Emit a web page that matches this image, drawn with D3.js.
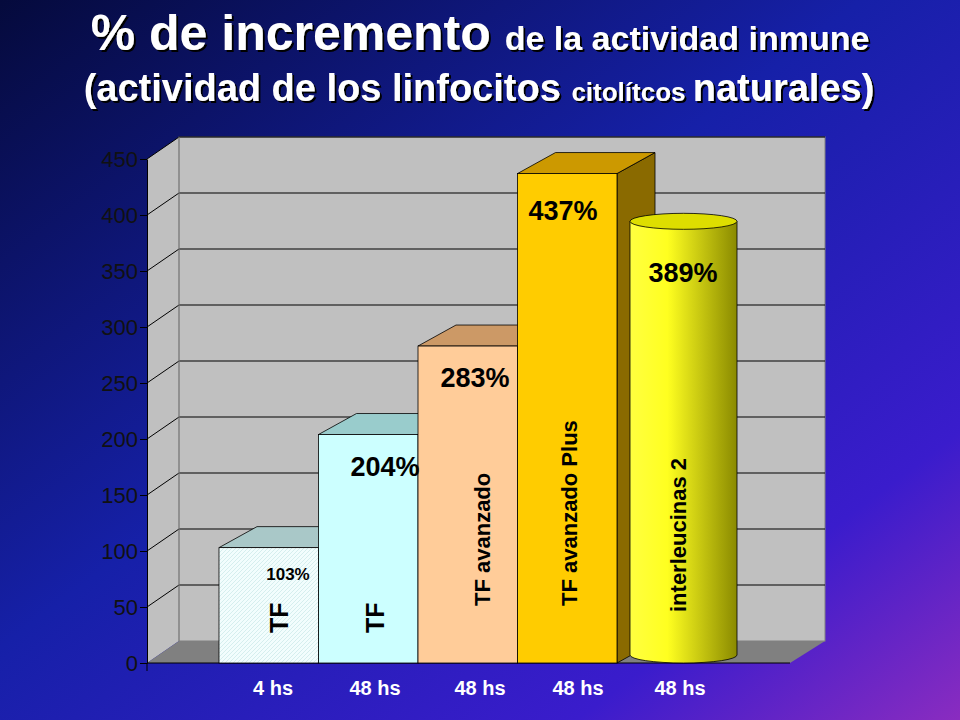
<!DOCTYPE html>
<html><head><meta charset="utf-8">
<script src="https://cdn.jsdelivr.net/npm/d3@7"></script>
<style>body{margin:0}svg{display:block}</style>
</head><body>
<svg id="chart" width="960" height="720"></svg>
<script>
// chart data
var periods = ["4 hs", "48 hs", "48 hs", "48 hs", "48 hs"]
var treatments = ["TF", "TF", "TF avanzado", "TF avanzado Plus", "interleucinas 2"]
var values = [103, 204, 283, 437, 389]
var valueLabels = ["103%", "204%", "283%", "437%", "389%"]
var yTicks = [0, 50, 100, 150, 200, 250, 300, 350, 400, 450]

var svg = d3.select("#chart")
var defs = svg.append("defs")

// background gradient
var bg = defs.append("linearGradient").attr("id", "bg")
    .attr("x1", 0).attr("y1", 0).attr("x2", 1).attr("y2", 1)
bg.append("stop").attr("offset", "0%").attr("stop-color", "#050a3c")
bg.append("stop").attr("offset", "45%").attr("stop-color", "#1620a8")
bg.append("stop").attr("offset", "80%").attr("stop-color", "#3a1ccc")
bg.append("stop").attr("offset", "100%").attr("stop-color", "#8a2cc0")
svg.append("rect").attr("width", 960).attr("height", 720).attr("fill", "url(#bg)")

var cyl = defs.append("linearGradient").attr("id", "cyl")
cyl.append("stop").attr("offset", "0%").attr("stop-color", "#ffff40")
cyl.append("stop").attr("offset", "35%").attr("stop-color", "#ffff20")
cyl.append("stop").attr("offset", "100%").attr("stop-color", "#8a8a00")

var hatch = defs.append("pattern").attr("id", "hatch").attr("width", 4).attr("height", 4)
    .attr("patternUnits", "userSpaceOnUse")
hatch.append("rect").attr("width", 4).attr("height", 4).attr("fill", "#f2fdfd")
hatch.append("path").attr("d", "M0,4L4,0").attr("stroke", "#c8e8e8").attr("stroke-width", 0.7)

var shadow = defs.append("filter").attr("id", "shadow")
shadow.append("feDropShadow").attr("dx", 2).attr("dy", 2).attr("stdDeviation", 0.5).attr("flood-color", "#000")

// title
var title = svg.append("text").attr("text-anchor", "middle").attr("filter", "url(#shadow)")
    .attr("font-family", "Liberation Sans, Arial, sans-serif").attr("font-weight", "bold")
    .attr("fill", "white")
title.append("tspan").attr("x", 480).attr("y", 50).attr("font-size", 50).text("% de incremento ")
title.append("tspan").attr("font-size", 34).text("de la actividad inmune")
var t2 = svg.append("text").attr("text-anchor", "middle").attr("filter", "url(#shadow)")
    .attr("font-family", "Liberation Sans, Arial, sans-serif").attr("font-weight", "bold")
    .attr("fill", "white")
t2.append("tspan").attr("x", 479).attr("y", 101).attr("font-size", 38).text("(actividad de los linfocitos ")
t2.append("tspan").attr("font-size", 26).text("citolítcos ")
t2.append("tspan").attr("font-size", 38).text("naturales)")

// geometry
var dx = 32, dy = -22, bdx = 38, bdy = -21
var y = d3.scaleLinear().domain([0, 450]).range([663, 159])
var x = d3.scaleBand().domain(d3.range(values.length)).range([219, 716.5]).padding(0)

// walls
var g = svg.append("g")
g.append("path").attr("d", `M147,${y(450)}L${147+dx},${y(450)+dy}L${147+dx},${y(0)+dy}L147,${y(0)}Z`).attr("fill", "#c0c0c0")
g.append("rect").attr("x", 147+dx).attr("y", y(450)+dy).attr("width", 825-147-dx).attr("height", y(0)-y(450))
    .attr("fill", "#c0c0c0").attr("stroke", "#808080")
g.append("path").attr("d", `M147,663L${147+dx},${663+dy}L825,${663+dy}L790,663Z`).attr("fill", "#808080")
yTicks.slice(1).forEach(function(t) {
  g.append("path").attr("d", `M147,${y(t)}L${147+dx},${y(t)+dy}L825,${y(t)+dy}`)
    .attr("fill", "none").attr("stroke", "black").attr("stroke-width", 1)
})
g.append("line").attr("x1", 147+dx).attr("x2", 147+dx).attr("y1", y(450)+dy).attr("y2", 663+dy).attr("stroke", "#808080")

// y axis
var ax = svg.append("g").attr("transform", "translate(147,0)")
  .call(d3.axisLeft(y).tickValues(yTicks).tickSize(7).tickSizeOuter(0))
ax.select(".domain").attr("stroke", "black")
ax.selectAll("line").attr("stroke", "black")
ax.selectAll("text").attr("font-size", 22).attr("font-family", "Liberation Sans, Arial, sans-serif")
  .attr("fill", "#111").attr("x", -9)
svg.append("line").attr("x1", 147).attr("x2", 790).attr("y1", 663).attr("y2", 663).attr("stroke", "black")
svg.append("line").attr("x1", 147).attr("x2", 147).attr("y1", 663).attr("y2", 671).attr("stroke", "black")

// boxes
var fronts = ["url(#hatch)", "#ccffff", "#ffcc99", "#ffcc00"]
var tops = ["#a9c8c8", "#99cccc", "#cc9966", "#cc9900"]
var sides = ["#8ab", "#8bb", "#a87", "#8a6a00"]
for (var i = 3; i >= 0; i--) {
  var x0 = x(i), w = x.bandwidth(), yt = y(values[i])
  svg.append("path").attr("d", `M${x0+w},${yt}L${x0+w+bdx},${yt+bdy}L${x0+w+bdx},${663+bdy}L${x0+w},663Z`)
    .attr("fill", sides[i]).attr("stroke", "black").attr("stroke-width", 0.8)
  svg.append("path").attr("d", `M${x0},${yt}L${x0+bdx},${yt+bdy}L${x0+w+bdx},${yt+bdy}L${x0+w},${yt}Z`)
    .attr("fill", tops[i]).attr("stroke", "black").attr("stroke-width", 0.8)
}
for (var i = 0; i < 4; i++) {
  svg.append("rect").attr("x", x(i)).attr("y", y(values[i])).attr("width", x.bandwidth())
    .attr("height", 663 - y(values[i])).attr("fill", fronts[i]).attr("stroke", "black").attr("stroke-width", 0.8)
}
// cylinder
var ci = 4, cx0 = x(ci) + 13, cw = 107, ry = 8, cyTop = y(values[ci]) - 6
svg.append("path").attr("d", `M${cx0},${cyTop}L${cx0},655A${cw/2},${ry} 0 0 0 ${cx0+cw},655L${cx0+cw},${cyTop}Z`)
  .attr("fill", "url(#cyl)").attr("stroke", "black").attr("stroke-width", 0.8)
svg.append("ellipse").attr("cx", cx0 + cw/2).attr("cy", cyTop).attr("rx", cw/2).attr("ry", ry)
  .attr("fill", "#dede00").attr("stroke", "black").attr("stroke-width", 0.8)

// value labels
var vl = [[288, 580, 17], [385, 476, 27], [475, 387, 27], [563, 220, 27], [683, 282, 27]]
valueLabels.forEach(function(l, i) {
  svg.append("text").attr("x", vl[i][0]).attr("y", vl[i][1]).attr("text-anchor", "middle")
    .attr("font-family", "Liberation Sans, Arial, sans-serif").attr("font-weight", "bold")
    .attr("font-size", vl[i][2]).attr("fill", "black").text(l)
})
// rotated treatment labels
var rl = [[288, 633], [384, 633], [490, 606], [577, 606], [686, 612]]
treatments.forEach(function(l, i) {
  svg.append("text").attr("transform", `translate(${rl[i][0]},${rl[i][1]}) rotate(-90)`)
    .attr("font-family", "Liberation Sans, Arial, sans-serif").attr("font-weight", "bold")
    .attr("font-size", i < 2 ? 25 : 22).attr("fill", "black").text(l)
})
// period labels
var px = [273, 375, 480, 578, 680]
periods.forEach(function(p, i) {
  svg.append("text").attr("x", px[i]).attr("y", 695).attr("text-anchor", "middle")
    .attr("font-family", "Liberation Sans, Arial, sans-serif").attr("font-weight", "bold")
    .attr("font-size", 20).attr("fill", "white").text(p)
})
</script>
</body></html>
